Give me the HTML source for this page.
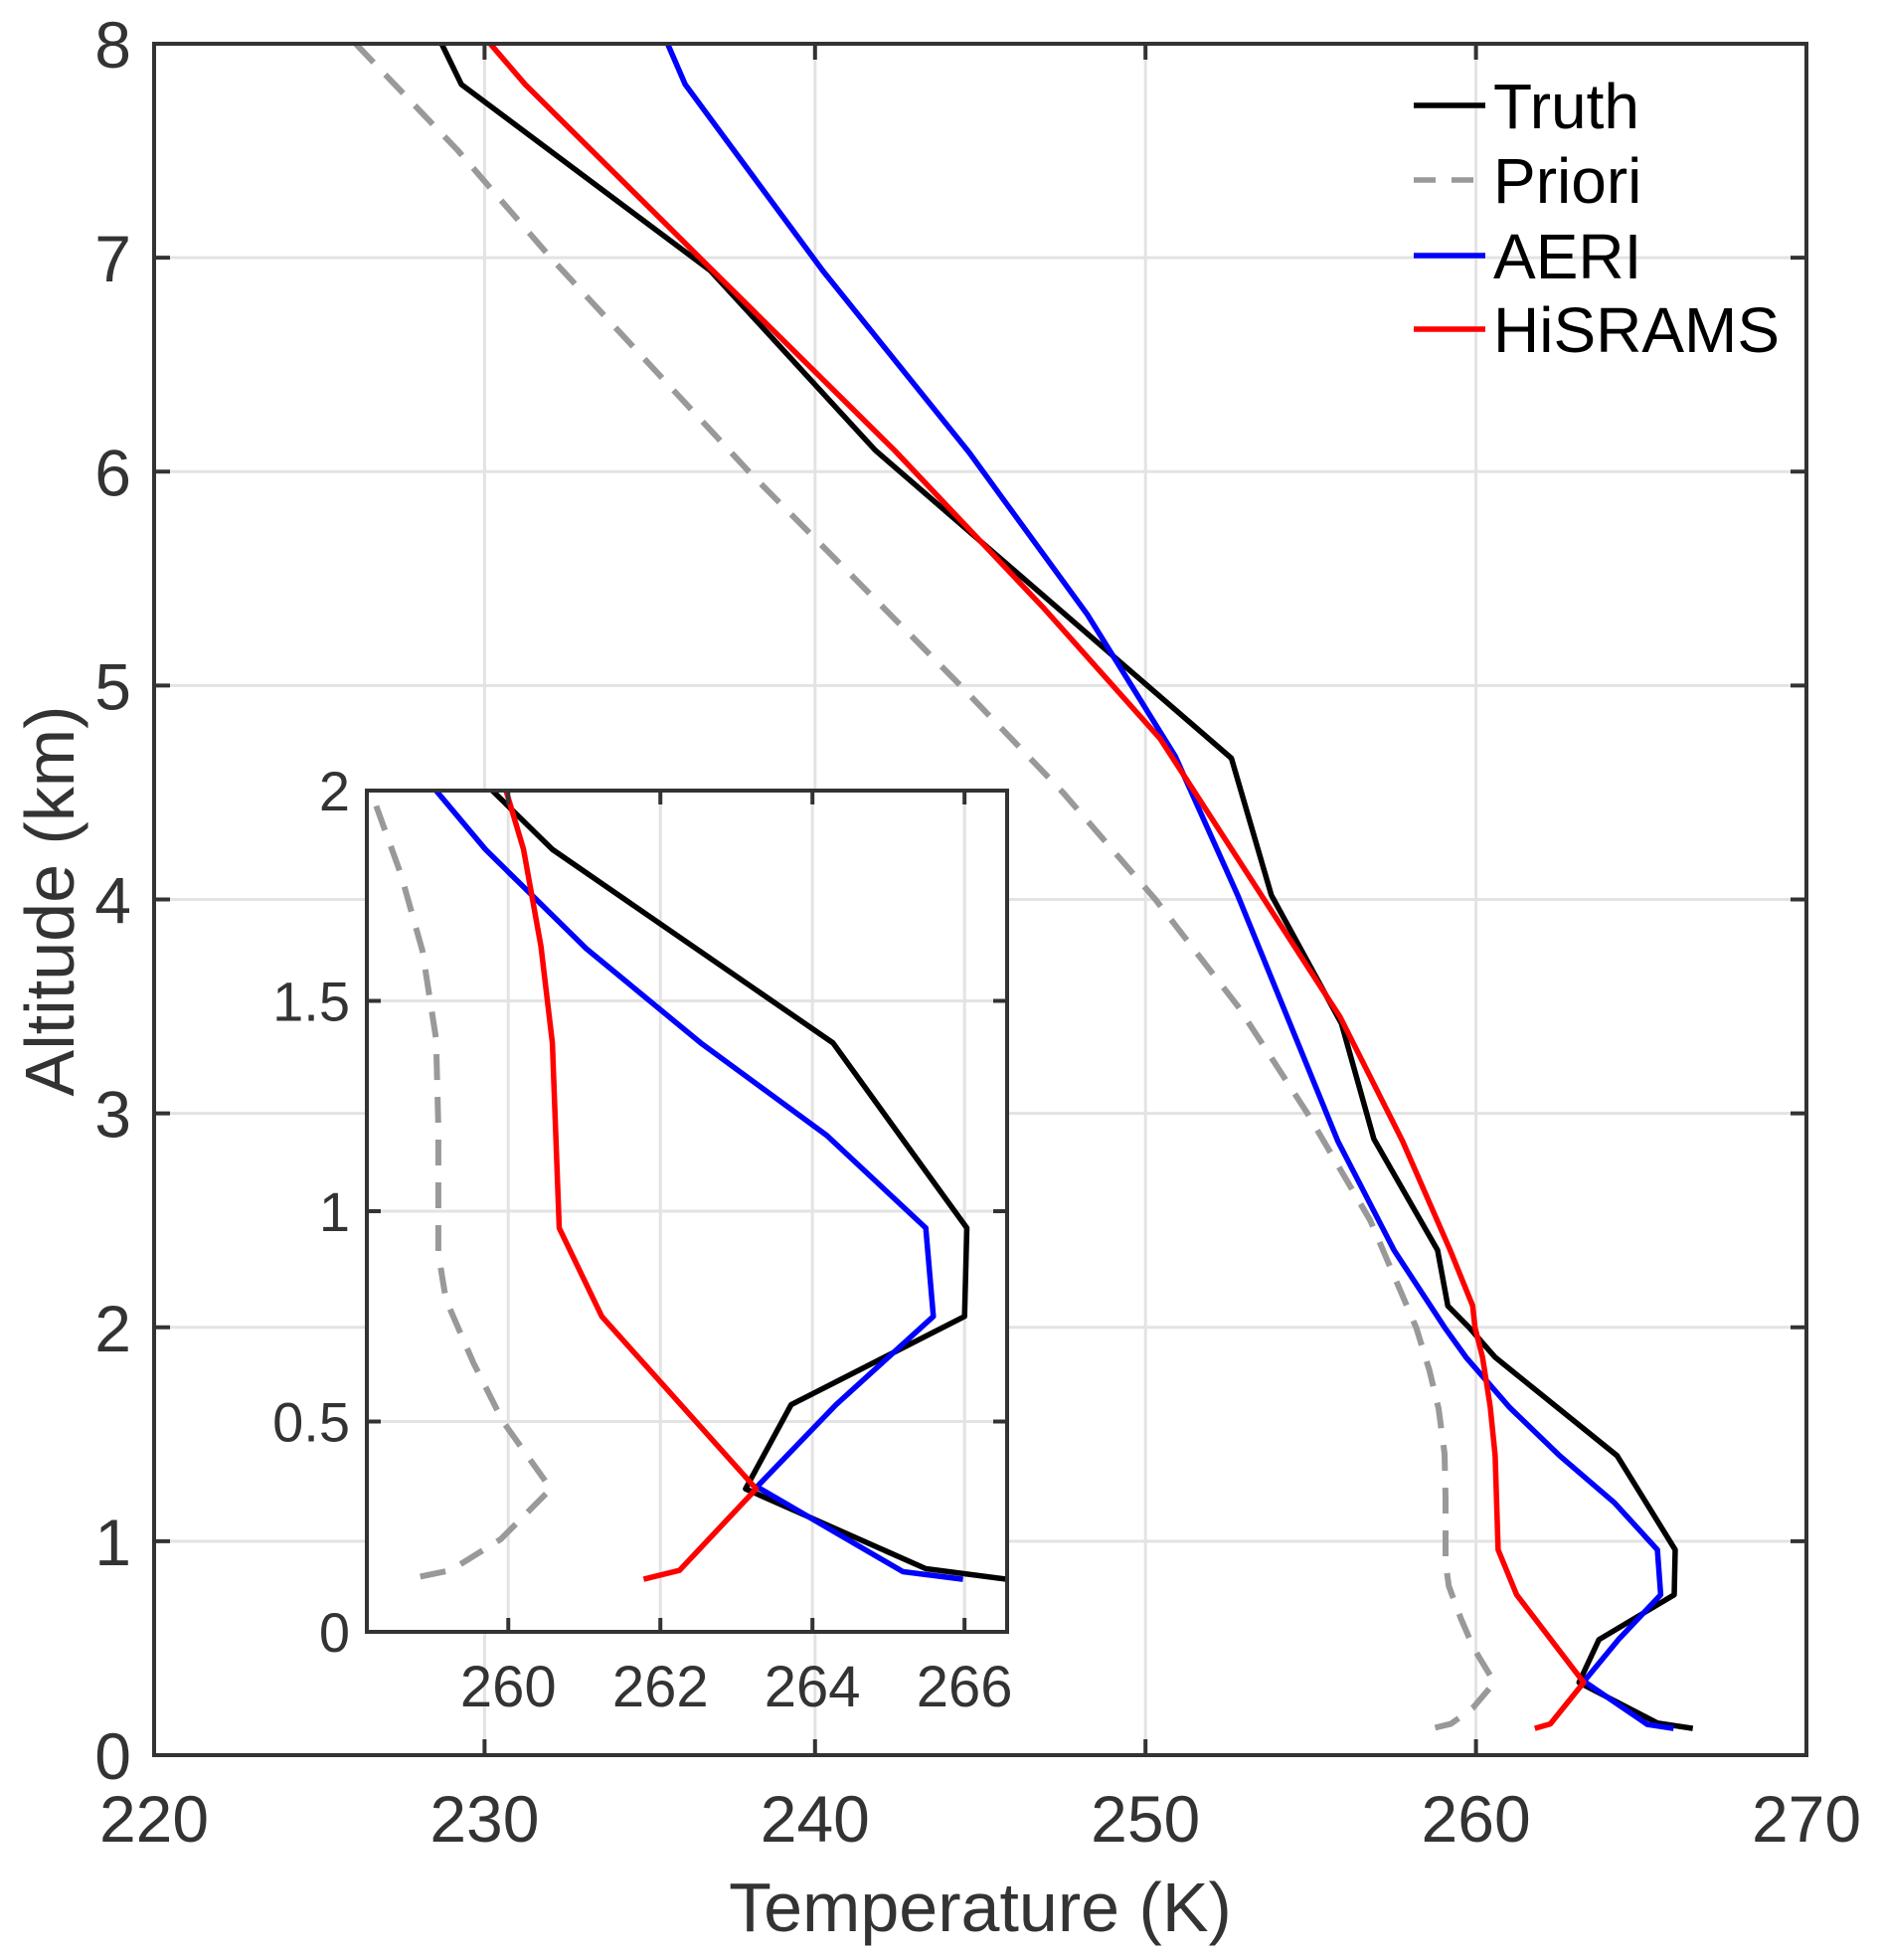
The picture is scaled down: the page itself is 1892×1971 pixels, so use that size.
<!DOCTYPE html>
<html><head><meta charset="utf-8"><style>
html,body{margin:0;padding:0;background:#fff}
svg{display:block}
text{font-family:"Liberation Sans",Arial,sans-serif;fill:#333}
</style></head><body>
<svg id="chart" width="1892" height="1971" viewBox="0 0 1892 1971" xmlns="http://www.w3.org/2000/svg"></svg>
<script>
// ---- data (Temperature K, Altitude km) ----
const truthT = [228.7,229.3,236.83,241.82,252.6,253.81,255.93,256.91,258.84,259.15,259.79,260.58,264.27,265.19,266.03,266.0,263.72,263.12,265.49,266.56];
const truthZ = [8.0,7.81,6.94,6.10,4.66,4.02,3.42,2.88,2.36,2.10,2.0,1.86,1.40,1.17,0.96,0.75,0.54,0.34,0.15,0.125];
const prioriT = [226.1,229.2,232.0,235.0,238.0,241.2,244.4,247.5,250.3,252.8,254.9,256.8,258.19,258.59,258.87,259.05,259.08,259.08,259.18,259.54,259.93,260.56,259.9,259.24,258.67];
const prioriZ = [8.0,7.5,7.0,6.5,6.0,5.5,5.0,4.5,4.0,3.5,3.0,2.5,2.0,1.80,1.62,1.41,1.20,0.90,0.79,0.64,0.50,0.34,0.22,0.146,0.125];
const aeriT = [235.54,236.07,240.23,244.66,248.25,250.9,252.79,255.82,257.52,259.05,259.7,261.02,262.53,264.19,265.49,265.59,264.31,263.27,265.19,265.98];
const aeriZ = [8.0,7.81,6.94,6.09,5.33,4.67,4.02,2.87,2.36,2.0,1.86,1.625,1.40,1.18,0.96,0.75,0.54,0.345,0.143,0.125];
const hisT = [230.17,231.23,236.9,242.4,246.93,250.45,255.89,257.78,259.22,259.9,259.97,260.2,260.43,260.58,260.67,261.23,263.26,262.25,261.78];
const hisZ = [8.0,7.81,6.94,6.10,5.36,4.75,3.45,2.87,2.36,2.10,2.0,1.86,1.63,1.40,0.96,0.75,0.34,0.146,0.125];
const mainXTicks = [220,230,240,250,260,270];
const mainYTicks = [0,1,2,3,4,5,6,7,8];
const insetXTicks = [260,262,264,266];
const insetYTicks = [0,0.5,1,1.5,2];
const insetYLabels = ["0","0.5","1","1.5","2"];
const legendLabels = ["Truth","Priori","AERI","HiSRAMS"];

const NS="http://www.w3.org/2000/svg";
const svg=document.getElementById('chart');
function mk(tag,attrs,parent){const e=document.createElementNS(NS,tag);for(const k in attrs)e.setAttribute(k,attrs[k]);(parent||svg).appendChild(e);return e;}

const M={l:155,r:1817,t:44,b:1765,x0:220,x1:270,y0:0,y1:8};
const I={l:369,r:1013,t:795,b:1641,x0:258.14,x1:266.56,y0:0,y1:2};
function sx(a,v){return a.l+(v-a.x0)/(a.x1-a.x0)*(a.r-a.l);}
function sy(a,v){return a.b-(v-a.y0)/(a.y1-a.y0)*(a.b-a.t);}

const defs=mk('defs',{});
const cp=mk('clipPath',{id:'clipMain'},defs);mk('rect',{x:M.l,y:M.t,width:M.r-M.l,height:M.b-M.t},cp);
const cp2=mk('clipPath',{id:'clipInset'},defs);mk('rect',{x:I.l,y:I.t,width:I.r-I.l,height:I.b-I.t},cp2);

const series=[
 {T:truthT,Z:truthZ,c:'#000',d:null,n:'truth'},
 {T:prioriT,Z:prioriZ,c:'#999',d:'26 17',n:'priori'},
 {T:aeriT,Z:aeriZ,c:'#0000ff',d:null,n:'aeri'},
 {T:hisT,Z:hisZ,c:'#ff0000',d:null,n:'hisrams'}];
const drawOrder=[1,0,2,3];

function drawAxes(a,xt,yt,prefix){
  const g=mk('g',{});
  
  
  xt.forEach(v=>{if(v>a.x0&&v<a.x1){mk('line',{x1:sx(a,v),x2:sx(a,v),y1:a.t,y2:a.b,stroke:'#e3e3e3','stroke-width':3},g);}});
  yt.forEach(v=>{if(v>a.y0&&v<a.y1){mk('line',{x1:a.l,x2:a.r,y1:sy(a,v),y2:sy(a,v),stroke:'#e3e3e3','stroke-width':3},g);}});
}
function drawSeries(a,clip,prefix){
  const g=mk('g',{'clip-path':'url(#'+clip+')'});
  
  
  drawOrder.forEach(i=>{const s=series[i];
    const pts=s.T.map((t,k)=>sx(a,t).toFixed(1)+','+sy(a,s.Z[k]).toFixed(1)).join(' ');
    const p=mk('polyline',{points:pts,fill:'none',stroke:s.c,'stroke-width':s.d?6:5.5,'stroke-linejoin':'round'},g);
    if(s.d)p.setAttribute('stroke-dasharray',s.d);
    
    
  });
}
function drawFrame(a,xt,yt,prefix,tick){
  const g=mk('g',{});
  
  
  xt.forEach(v=>{if(v>=a.x0&&v<=a.x1){const x=sx(a,v);mk('line',{x1:x,x2:x,y1:a.b,y2:a.b-tick,stroke:'#333','stroke-width':4},g);mk('line',{x1:x,x2:x,y1:a.t,y2:a.t+tick,stroke:'#333','stroke-width':4},g);}});
  yt.forEach(v=>{const y=sy(a,v);mk('line',{x1:a.l,x2:a.l+tick,y1:y,y2:y,stroke:'#333','stroke-width':4},g);mk('line',{x1:a.r,x2:a.r-tick,y1:y,y2:y,stroke:'#333','stroke-width':4},g);});
  const f=mk('rect',{x:a.l,y:a.t,width:a.r-a.l,height:a.b-a.t,fill:'none',stroke:'#333','stroke-width':4});
  
  
}

// MAIN
drawAxes(M,mainXTicks,mainYTicks,'main');
drawSeries(M,'clipMain','main');
drawFrame(M,mainXTicks,mainYTicks,'main',16);
mainXTicks.forEach(v=>{const t=mk('text',{x:sx(M,v),y:1852,'font-size':66,'text-anchor':'middle'});t.textContent=v;
  
  });
mainYTicks.forEach(v=>{const t=mk('text',{x:132,y:sy(M,v)+24,'font-size':66,'text-anchor':'end'});t.textContent=v;
  
  });
const xl=mk('text',{x:986,y:1942,'font-size':70,'text-anchor':'middle'});xl.textContent='Temperature (K)';


const yl=mk('text',{x:0,y:0,'font-size':70,'text-anchor':'middle',transform:'translate(74,906) rotate(-90)'});yl.textContent='Altitude (km)';



// LEGEND
const lg=mk('g',{});


const ly=[106,181,257,331];
series.forEach((s,i)=>{
  const e=mk('g',{},lg);
  
  
  const l=mk('line',{x1:1422,x2:1494,y1:ly[i],y2:ly[i],stroke:s.c,'stroke-width':5.5},e);
  if(s.d)l.setAttribute('stroke-dasharray','22 16');
  const t=mk('text',{x:1502,y:ly[i]+23,'font-size':64},e);t.textContent=legendLabels[i];t.style.fill='#000';
});

// INSET
const bg=mk('rect',{x:I.l,y:I.t,width:I.r-I.l,height:I.b-I.t,fill:'#fff'});


drawAxes(I,insetXTicks,insetYTicks,'inset');
drawSeries(I,'clipInset','inset');
drawFrame(I,insetXTicks,insetYTicks,'inset',14);
insetXTicks.forEach(v=>{const t=mk('text',{x:sx(I,v),y:1716,'font-size':58,'text-anchor':'middle'});t.textContent=v;
  
  });
insetYTicks.forEach((v,i)=>{const t=mk('text',{x:352,y:sy(I,v)+20,'font-size':56,'text-anchor':'end'});t.textContent=insetYLabels[i];
  
  });
</script>
</body></html>
